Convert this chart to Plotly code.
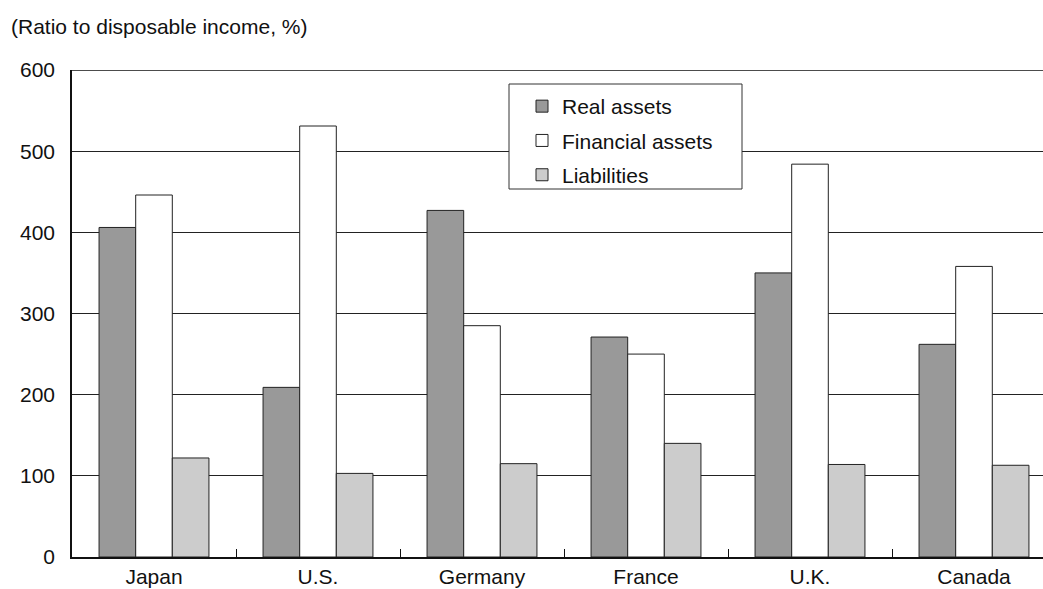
import plotly.graph_objects as go

countries = ["Japan", "U.S.", "Germany", "France", "U.K.", "Canada"]
real_assets = [406, 209, 427, 271, 350, 262]
financial_assets = [446, 531, 285, 250, 484, 358]
liabilities = [122, 103, 115, 140, 114, 113]
y_ticks = [0, 100, 200, 300, 400, 500, 600]

FONT = "Liberation Sans, Arial, sans-serif"
FS = 21

fig = go.Figure()
series = [
    ("Real assets", real_assets, "#999999"),
    ("Financial assets", financial_assets, "#ffffff"),
    ("Liabilities", liabilities, "#cccccc"),
]
for i, (name, vals, col) in enumerate(series):
    fig.add_trace(go.Bar(
        x=countries, y=vals, name=name,
        marker=dict(color=col, line=dict(color="#222222", width=1)),
        legendgroup=f"g{i}",
    ))

W, H = 1043, 589
ml, mt, mb = 72, 70, 32
cat_w = 164
plot_w = W - ml
plot_h = H - mt - mb
x_hi = -0.5 + plot_w / cat_w

fig.update_layout(
    width=W, height=H,
    margin=dict(l=ml, r=0, t=mt, b=mb),
    paper_bgcolor="white", plot_bgcolor="white",
    barmode="group", bargap=0.33, bargroupgap=0,
    font=dict(family=FONT, size=FS, color="#111111"),
    showlegend=True,
    legend=dict(
        x=(522 - ml) / plot_w, y=1 - (86 - mt) / plot_h,
        xanchor="left", yanchor="top",
        bgcolor="rgba(0,0,0,0)", borderwidth=0,
        traceorder="grouped", tracegroupgap=4,
        font=dict(family=FONT, size=FS, color="#111111"),
    ),
    xaxis=dict(
        range=[-0.5, x_hi],
        showline=True, linecolor="#111111", linewidth=1.5,
        ticks="inside", tickson="boundaries", ticklen=8, tickcolor="#111111",
        showgrid=False, tickfont=dict(size=FS),
    ),
    yaxis=dict(
        range=[0, 600], tickvals=y_ticks,
        showline=True, linecolor="#111111", linewidth=1.5,
        showgrid=True, gridcolor="#222222", gridwidth=1,
        ticks="", ticklabelstandoff=11, zeroline=False,
        tickfont=dict(size=FS),
    ),
    shapes=[
        dict(type="line", xref="paper", yref="y", x0=0, x1=1, y0=600, y1=600,
             line=dict(color="#111111", width=1.5), layer="above"),
        dict(type="rect", xref="paper", yref="paper",
             x0=(509 - ml) / plot_w, x1=(742 - ml) / plot_w,
             y0=1 - (189 - mt) / plot_h, y1=1 - (84 - mt) / plot_h,
             fillcolor="white", line=dict(color="#333333", width=1), layer="above"),
    ],
    annotations=[
        dict(text="(Ratio to disposable income, %)", xref="paper", yref="paper",
             x=-ml / plot_w + 9 / plot_w, y=1 + (mt - 27) / plot_h,
             xanchor="left", yanchor="middle", showarrow=False,
             font=dict(size=FS, color="#111111")),
    ],
)

fig.write_html("out.html")
